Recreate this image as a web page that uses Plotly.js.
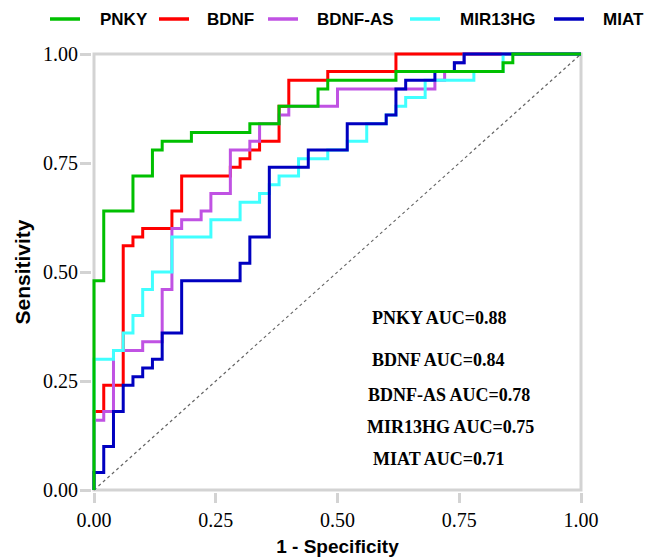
<!DOCTYPE html>
<html><head><meta charset="utf-8">
<script src="https://cdn.plot.ly/plotly-3.0.1.min.js"></script>
<style>html,body{margin:0;padding:0;background:#fff}#chart{width:646px;height:560px}</style>
</head><body><div id="chart"></div>
<script>
// ---- data ----
const seriesNames = ['PNKY', 'BDNF', 'BDNF-AS', 'MIR13HG', 'MIAT'];
const aucValues = ['0.88', '0.84', '0.78', '0.75', '0.71'];

const pnkyFpr = [0, 0, 0.02, 0.08, 0.12, 0.14, 0.20, 0.32, 0.38, 0.46, 0.48, 0.62, 0.84, 0.86, 1];
const pnkyTpr = [0, 0.48, 0.64, 0.72, 0.78, 0.80, 0.82, 0.84, 0.88, 0.92, 0.94, 0.96, 0.98, 1, 1];

const bdnfFpr = [0, 0, 0.02, 0.06, 0.08, 0.10, 0.16, 0.18, 0.28, 0.30, 0.32, 0.34, 0.38, 0.40, 0.48, 0.62, 1];
const bdnfTpr = [0, 0.18, 0.24, 0.56, 0.58, 0.60, 0.64, 0.72, 0.74, 0.76, 0.78, 0.80, 0.88, 0.94, 0.96, 1, 1];

const bdnfAsFpr = [0, 0, 0.02, 0.04, 0.10, 0.14, 0.16, 0.18, 0.22, 0.24, 0.28, 0.32, 0.34, 0.38, 0.40, 0.50, 0.70, 0.72, 0.74, 0.76, 1];
const bdnfAsTpr = [0, 0.16, 0.18, 0.32, 0.34, 0.46, 0.60, 0.62, 0.64, 0.68, 0.78, 0.80, 0.84, 0.86, 0.88, 0.92, 0.94, 0.96, 0.98, 1, 1];

const mir13hgFpr = [0, 0, 0.04, 0.06, 0.08, 0.10, 0.12, 0.16, 0.24, 0.30, 0.34, 0.36, 0.38, 0.42, 0.48, 0.52, 0.56, 0.60, 0.62, 0.64, 0.68, 0.78, 0.84, 1];
const mir13hgTpr = [0, 0.30, 0.32, 0.36, 0.40, 0.46, 0.50, 0.58, 0.62, 0.66, 0.68, 0.70, 0.72, 0.76, 0.78, 0.80, 0.84, 0.86, 0.88, 0.90, 0.94, 0.96, 1, 1];

const miatFpr = [0, 0, 0.02, 0.04, 0.06, 0.08, 0.10, 0.12, 0.14, 0.18, 0.30, 0.32, 0.36, 0.44, 0.52, 0.60, 0.62, 0.64, 0.70, 0.74, 0.76, 1];
const miatTpr = [0, 0.04, 0.10, 0.18, 0.24, 0.26, 0.28, 0.30, 0.36, 0.48, 0.52, 0.58, 0.74, 0.78, 0.84, 0.86, 0.92, 0.94, 0.96, 0.98, 1, 1];

const diagX = [0, 1];
const diagY = [0, 1];

const tickVals = [0, 0.25, 0.5, 0.75, 1];
const tickLabels = ['0.00', '0.25', '0.50', '0.75', '1.00'];

// ---- styles / layout ----
const colors = ['#00c000', '#ff0000', '#c052e3', '#40ffff', '#0000c0'];
const fprs = [pnkyFpr, bdnfFpr, bdnfAsFpr, mir13hgFpr, miatFpr];
const tprs = [pnkyTpr, bdnfTpr, bdnfAsTpr, mir13hgTpr, miatTpr];
const drawOrder = [1, 2, 3, 4, 0];

const plotLeft = 92, plotTop = 52, plotW = 491, plotH = 440;
const padX = 2 / 487, padY = 2 / 436;
function px2x(px) { return (px - plotLeft) / plotW; }
function py2y(py) { return (plotTop + plotH - py) / plotH; }

const SERIF = 'Liberation Serif, Times New Roman, serif';
const SANS = 'Liberation Sans, Arial, sans-serif';

const traces = [{
  x: diagX, y: diagY, mode: 'lines', hoverinfo: 'skip', showlegend: false,
  line: { color: '#666666', width: 1.2, dash: 'dot' }
}];
drawOrder.forEach(i => {
  traces.push({
    x: fprs[i], y: tprs[i], name: seriesNames[i], mode: 'lines', showlegend: false,
    line: { color: colors[i], width: 3, shape: 'hv' }
  });
});

// manual legend positions (px)
const legLineStart = [50, 159, 268, 410, 554];
const legTextLeft = [98, 205, 315, 458, 601];
const legY = 19;

const shapes = [{
  type: 'rect', xref: 'x', yref: 'y', x0: 0, x1: 1, y0: 0, y1: 1,
  line: { color: '#d3d3d3', width: 3 }, layer: 'below'
}];
const annotations = [];
seriesNames.forEach((n, i) => {
  shapes.push({
    type: 'line', xref: 'paper', yref: 'paper',
    x0: px2x(legLineStart[i]), x1: px2x(legLineStart[i] + 30),
    y0: py2y(legY), y1: py2y(legY),
    line: { color: colors[i], width: 3.5 }
  });
  annotations.push({
    xref: 'paper', yref: 'paper', x: px2x(legTextLeft[i]), y: py2y(legY + 1),
    xanchor: 'left', yanchor: 'middle', showarrow: false,
    text: '<b>' + n + '</b>', font: { family: SANS, size: 17, color: '#000' }
  });
});

const aucX = [0.566, 0.566, 0.559, 0.557, 0.568];
const aucY = [0.394, 0.298, 0.218, 0.145, 0.070];
seriesNames.forEach((n, i) => {
  annotations.push({
    xref: 'x', yref: 'y', x: aucX[i], y: aucY[i], xanchor: 'left', yanchor: 'middle',
    showarrow: false, text: '<b>' + n + ' AUC=' + aucValues[i] + '</b>',
    font: { family: SERIF, size: 18, color: '#000' }
  });
});

const axisCommon = {
  showline: false, showgrid: false, zeroline: false,
  ticks: 'outside', tickcolor: '#d3d3d3', tickwidth: 3,
  tickvals: tickVals, ticktext: tickLabels,
  tickfont: { family: SERIF, size: 20, color: '#000' },
  fixedrange: true
};

const layout = {
  width: 646, height: 560,
  margin: { l: plotLeft, r: 646 - plotLeft - plotW, t: plotTop, b: 560 - plotTop - plotH },
  paper_bgcolor: '#fff', plot_bgcolor: '#fff',
  showlegend: false,
  xaxis: Object.assign({}, axisCommon, {
    range: [-padX, 1 + padX], ticklen: 10,
    title: { text: '<b>1 - Specificity</b>', font: { family: SANS, size: 19, color: '#000' }, standoff: 9 }
  }),
  yaxis: Object.assign({}, axisCommon, {
    range: [-padY, 1 + padY], ticklen: 11, ticklabelstandoff: -2,
    title: { text: '<b>Sensitivity</b>', font: { family: SANS, size: 21, color: '#000' }, standoff: 6 }
  }),
  shapes: shapes,
  annotations: annotations
};

Plotly.newPlot('chart', traces, layout, { staticPlot: true, displayModeBar: false });
</script>
</body></html>
